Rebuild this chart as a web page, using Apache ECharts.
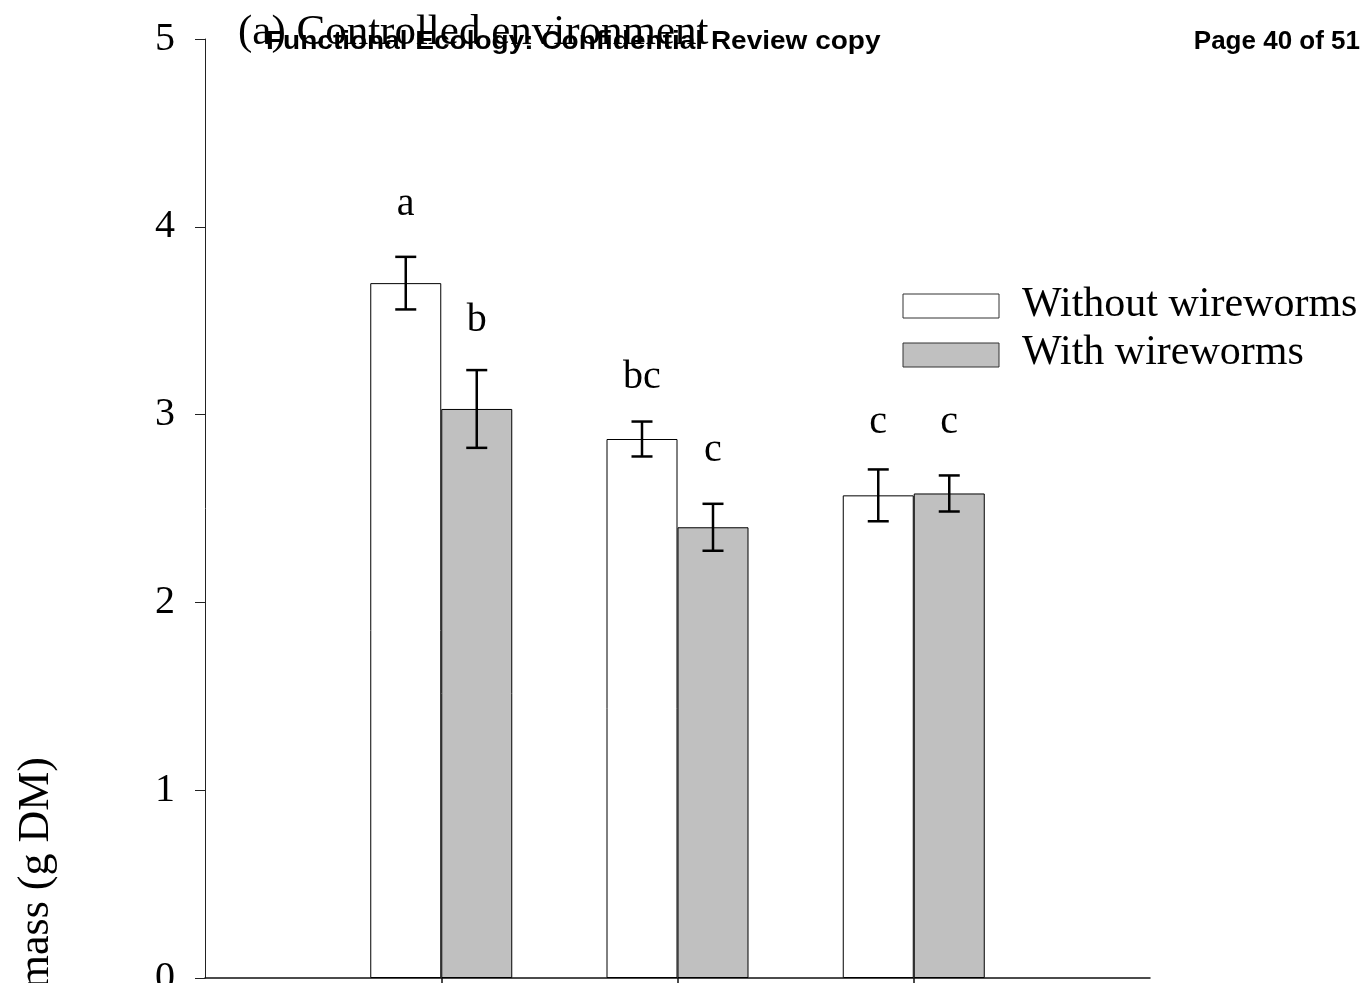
<!DOCTYPE html>
<html>
<head>
<meta charset="utf-8">
<script src="https://cdn.jsdelivr.net/npm/echarts@6/dist/echarts.min.js"></script>
<style>
html,body{margin:0;padding:0;background:#fff;}
#chart{width:1370px;height:983px;}
</style>
</head>
<body>
<div id="chart"></div>
<script>
// ---- data ----
var categories = ['', 'Group 1', 'Group 2', 'Group 3', ''];
var seriesNames = ['Without wireworms', 'With wireworms'];
var withoutValues = [null, 3.70, 2.87, 2.57, null];
var withValues = [null, 3.03, 2.40, 2.58, null];
var withoutErrors = [null, 0.14, 0.093, 0.138, null];
var withErrors = [null, 0.207, 0.125, 0.096, null];
var withoutLetters = [null, 'a', 'bc', 'c', null];
var withLetters = [null, 'b', 'c', 'c', null];
var withoutLetterY = [null, 4.12, 3.20, 2.96, null];
var withLetterY = [null, 3.50, 2.81, 2.96, null];
var yTicks = [0, 1, 2, 3, 4, 5];
var titleText = '(a) Controlled environment';
var yAxisTitle = 'Shoot biomass (g DM)';
var headerLeft = 'Functional Ecology: Confidential Review copy';
var headerRight = 'Page 40 of 51';

// ---- style constants ----
var SERIF = '"Liberation Serif", "Times New Roman", serif';
var SANS = '"Liberation Sans", Arial, sans-serif';
var BAR_W = 71;
var FS = 40;

function errData(vals, errs) {
  var out = [];
  for (var i = 0; i < vals.length; i++) {
    if (vals[i] != null) out.push([i, vals[i], errs[i]]);
  }
  return out;
}
function letterData(ys) {
  var out = [];
  for (var i = 0; i < ys.length; i++) {
    if (ys[i] != null) out.push([i, ys[i]]);
  }
  return out;
}

function makeErrRender(offset) {
  return function (params, api) {
    var x = api.value(0), m = api.value(1), e = api.value(2);
    var top = api.coord([x, m + e]);
    var bot = api.coord([x, m - e]);
    var cx = top[0] + offset;
    var cap = 10.5;
    var st = {stroke: '#000', lineWidth: 2.5};
    return {
      type: 'group',
      children: [
        {type: 'line', shape: {x1: cx, y1: top[1], x2: cx, y2: bot[1]}, style: st},
        {type: 'line', shape: {x1: cx - cap, y1: top[1], x2: cx + cap, y2: top[1]}, style: st},
        {type: 'line', shape: {x1: cx - cap, y1: bot[1], x2: cx + cap, y2: bot[1]}, style: st}
      ]
    };
  };
}
function makeLetterRender(offset, letters) {
  return function (params, api) {
    var x = api.value(0), y = api.value(1);
    var p = api.coord([x, y]);
    return {
      type: 'text',
      x: p[0] + offset,
      y: p[1],
      style: {
        x: 0, y: 0,
        text: letters[x],
        font: FS + 'px ' + SERIF,
        fill: '#000',
        align: 'center',
        verticalAlign: 'middle'
      }
    };
  };
}

var chart = echarts.init(document.getElementById('chart'), null, {renderer: 'canvas'});
var option = {
  backgroundColor: '#fff',
  animation: false,
  grid: {left: 205, right: 220, top: 39, bottom: 5, containLabel: false, outerBoundsMode: 'none'},
  xAxis: {
    type: 'category',
    data: categories,
    boundaryGap: false,
    axisLine: {show: true, lineStyle: {color: '#111', width: 1.5}},
    axisTick: {
      show: true, inside: false, length: 10,
      interval: function (idx) { return categories[idx] !== ''; },
      lineStyle: {color: '#111', width: 1.5}
    },
    axisLabel: {show: false},
    splitLine: {show: false}
  },
  yAxis: {
    type: 'value',
    min: yTicks[0],
    max: yTicks[yTicks.length - 1],
    interval: 1,
    axisLine: {show: true, lineStyle: {color: '#222', width: 1}},
    axisTick: {show: true, inside: false, length: 10, lineStyle: {color: '#222', width: 1}},
    axisLabel: {
      show: true, margin: 30, color: '#000',
      fontFamily: SERIF, fontSize: FS,
      formatter: function (v) { return String(v); }
    },
    splitLine: {show: false}
  },
  series: [
    {
      name: seriesNames[0], type: 'bar', data: withoutValues,
      barWidth: BAR_W, barGap: '0%',
      itemStyle: {color: '#ffffff', borderColor: '#000', borderWidth: 1}
    },
    {
      name: seriesNames[1], type: 'bar', data: withValues,
      barWidth: BAR_W, barGap: '0%',
      itemStyle: {color: '#c0c0c0', borderColor: '#000', borderWidth: 1}
    },
    {
      type: 'custom', data: errData(withoutValues, withoutErrors),
      renderItem: makeErrRender(-BAR_W / 2), z: 5, silent: true,
      encode: {x: 0, y: 1}
    },
    {
      type: 'custom', data: errData(withValues, withErrors),
      renderItem: makeErrRender(BAR_W / 2), z: 5, silent: true,
      encode: {x: 0, y: 1}
    },
    {
      type: 'custom', data: letterData(withoutLetterY),
      renderItem: makeLetterRender(-BAR_W / 2, withoutLetters), z: 6, silent: true,
      encode: {x: 0, y: 1}, clip: false
    },
    {
      type: 'custom', data: letterData(withLetterY),
      renderItem: makeLetterRender(BAR_W / 2, withLetters), z: 6, silent: true,
      encode: {x: 0, y: 1}, clip: false
    }
  ],
  graphic: [
    {type: 'text', x: 238, y: 33, z: 10,
     style: {x: 0, y: 0, text: titleText, font: '43px ' + SERIF, fill: '#000', align: 'left', verticalAlign: 'middle'}},
    {type: 'text', x: 266, y: 42, scaleX: 1.12, z: 20,
     style: {x: 0, y: 0, text: headerLeft, font: 'bold 25px ' + SANS, fill: '#000', align: 'left', verticalAlign: 'middle'}},
    {type: 'text', x: 1360, y: 42, scaleX: 1.04, z: 20,
     style: {x: 0, y: 0, text: headerRight, font: 'bold 25px ' + SANS, fill: '#000', align: 'right', verticalAlign: 'middle'}},
    {type: 'text', x: 36, y: 757, rotation: Math.PI / 2, z: 10,
     style: {x: 0, y: 0, text: yAxisTitle, font: '44px ' + SERIF, fill: '#000', align: 'right', verticalAlign: 'middle'}},
    // legend
    {type: 'rect', shape: {x: 903, y: 294, width: 96, height: 24}, z: 10,
     style: {fill: '#ffffff', stroke: '#333', lineWidth: 1}},
    {type: 'rect', shape: {x: 903, y: 343, width: 96, height: 24}, z: 10,
     style: {fill: '#c0c0c0', stroke: '#333', lineWidth: 1}},
    {type: 'text', x: 1022, y: 305, z: 10,
     style: {x: 0, y: 0, text: seriesNames[0], font: '42px ' + SERIF, fill: '#000', align: 'left', verticalAlign: 'middle'}},
    {type: 'text', x: 1022, y: 353, z: 10,
     style: {x: 0, y: 0, text: seriesNames[1], font: '42px ' + SERIF, fill: '#000', align: 'left', verticalAlign: 'middle'}}
  ]
};
chart.setOption(option);
</script>
</body>
</html>
